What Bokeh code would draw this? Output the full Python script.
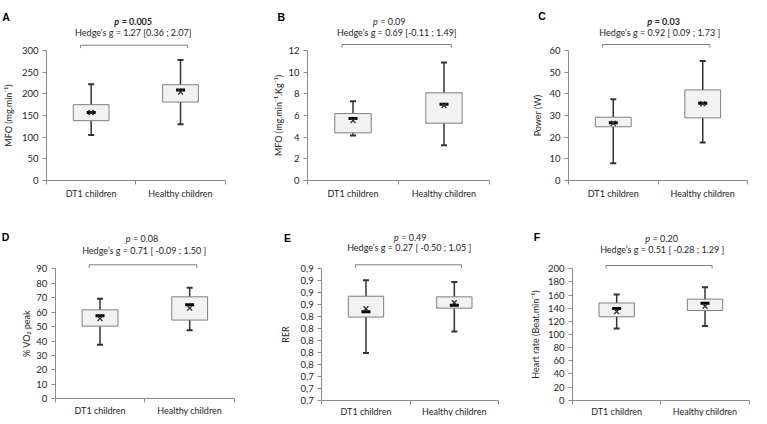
from bokeh.plotting import figure
from bokeh.layouts import column, row
from bokeh.models import Range1d, FixedTicker, Label, CustomJSTickFormatter
from bokeh.embed import file_html
from bokeh.resources import INLINE

groups = ["DT1 children", "Healthy children"]

# ---- data ----
A_low = [105, 130]; A_q1 = [138, 181]; A_med = [157, 209]; A_q3 = [175, 221]; A_high = [222, 278]; A_mean = [157, 204]
B_low = [4.15, 3.26]; B_q1 = [4.40, 5.29]; B_med = [5.72, 7.05]; B_q3 = [6.18, 8.09]; B_high = [7.32, 10.89]; B_mean = [5.54, 6.92]
C_low = [8.0, 17.5]; C_q1 = [24.8, 28.9]; C_med = [26.6, 35.6]; C_q3 = [29.2, 41.8]; C_high = [37.5, 55.1]; C_mean = [26.4, 35.4]
D_low = [37.4, 47.5]; D_q1 = [50.3, 54.5]; D_med = [57.5, 65.1]; D_q3 = [61.6, 70.6]; D_high = [69.2, 76.8]; D_mean = [55.6, 62.8]
E_low = [0.779, 0.815]; E_q1 = [0.839, 0.854]; E_med = [0.848, 0.859]; E_q3 = [0.874, 0.873]; E_high = [0.901, 0.898]; E_mean = [0.853, 0.863]
F_low = [109, 113]; F_q1 = [127, 136.5]; F_med = [139.6, 147.7]; F_q3 = [148, 153.8]; F_high = [161, 172]; F_mean = [135, 143]

A_ticks = [0, 50, 100, 150, 200, 250, 300]
B_ticks = [0, 2, 4, 6, 8, 10, 12]
C_ticks = [0, 10, 20, 30, 40, 50, 60]
D_ticks = [0, 10, 20, 30, 40, 50, 60, 70, 80, 90]
E_ticks = [0.70, 0.72, 0.74, 0.76, 0.78, 0.80, 0.82, 0.84, 0.86, 0.88, 0.90, 0.92]
F_ticks = [0, 20, 40, 60, 80, 100, 120, 140, 160, 180, 200]

letters = ["A", "B", "C", "D", "E", "F"]
ylabels = ["MFO (mg.min\u207b\u00b9)", "MFO (mg.min\u207b\u00b9.Kg\u207b\u00b9)", "Power (W)",
           "% VO\u2082 peak", "RER", "Heart rate (Beat.min\u207b\u00b9)"]
p_values = ["0.005", "0.09", "0.03", "0.08", "0.49", "0.20"]
p_bold = [True, False, True, False, False, False]
hedges = ["Hedge\u2019s g = 1.27 [0.36 ; 2.07]",
          "Hedge\u2019s g = 0.69 [-0.11 ; 1.49]",
          "Hedge\u2019s g = 0.92 [ 0.09 ; 1.73 ]",
          "Hedge\u2019s g = 0.71 [ -0.09 ; 1.50 ]",
          "Hedge\u2019s g = 0.27 [ -0.50 ; 1.05 ]",
          "Hedge\u2019s g = 0.51 [ -0.28 ; 1.29 ]"]

stats = [
    (A_low, A_q1, A_med, A_q3, A_high, A_mean, A_ticks),
    (B_low, B_q1, B_med, B_q3, B_high, B_mean, B_ticks),
    (C_low, C_q1, C_med, C_q3, C_high, C_mean, C_ticks),
    (D_low, D_q1, D_med, D_q3, D_high, D_mean, D_ticks),
    (E_low, E_q1, E_med, E_q3, E_high, E_mean, E_ticks),
    (F_low, F_q1, F_med, F_q3, F_high, F_mean, F_ticks),
]

# ---- layout (window pixels) ----
COL_LEFT = [8, 263, 518]
COL_W = [255, 255, 241]
ROW_TOP = [0, 204]
ROW_H = [204, 212]
# axis x start, axis x end, y of top tick, y of bottom tick
AXES = [
    (54.0, 232.7, 50.0, 180.0),
    (315.0, 497.0, 50.0, 180.0),
    (576.0, 755.0, 50.0, 180.0),
    (62.7, 242.0, 268.3, 398.3),
    (329.3, 506.0, 268.3, 399.5),
    (580.0, 756.7, 268.3, 399.7),
]
# letter_dx, letter_up, p_dx, p_up, h_dx, h_up, bracket_up, ylabel_standoff, xlabel_standoff
TEXTPOS = [
    (-40.5, 34.0, -3.3, 29.3, -2.6, 18.3, 5.3, 5, 3),
    (-26.3, 34.0, -10.0, 29.3, -1.7, 18.3, 6.0, 1, 3),
    (-26.5, 34.3, 5.0, 29.3, 1.8, 18.3, 6.0, 3, 3),
    (-49.7, 31.6, -3.6, 30.0, -0.6, 18.6, 4.0, 1, 2),
    (-34.3, 31.3, -0.7, 31.6, -0.9, 21.0, 4.0, 6, 2),
    (-35.5, 32.3, 0.0, 30.6, 1.4, 19.0, 3.3, 4, 2),
]

FONT = "Lato"
TXT = "#262626"
AX = "#8c8c8c"
XPOS = [0.5, 1.5]
BR_X0, BR_X1 = 0.38, 1.58

CW = {' ': 0.20, '=': 0.58, '.': 0.26, 'p': 0.58}


def est_w(s, size):
    return sum(CW.get(c, 0.58) for c in s) * size


def make_panel(i):
    low, q1, med, q3, high, mean, ticks = stats[i]
    col, rw = i % 3, i // 3
    W, H = COL_W[col], ROW_H[rw]
    FL, FT = COL_LEFT[col], ROW_TOP[rw]
    x0w, x1w, ytw, ybw = AXES[i]
    l_dx, l_up, p_dx, p_up, h_dx, h_up, b_up, yl_so, xl_so = TEXTPOS[i]

    ymin, ymax = ticks[0], ticks[-1]
    ppx = (x1w - x0w) / 2.0
    x0 = x0w - FL
    x_start = -x0 / ppx
    x_end = (W - x0) / ppx
    ytop = ytw - FT
    ybot = ybw - FT
    ppu = (ybot - ytop) / (ymax - ymin)
    y_end = ymax + ytop / ppu
    y_start = ymin - (H - ybot) / ppu

    p = figure(width=W, height=H, output_backend="svg", toolbar_location=None,
               x_range=Range1d(x_start, x_end), y_range=Range1d(y_start, y_end),
               min_border=0, min_border_left=0, min_border_right=0,
               min_border_top=0, min_border_bottom=0)
    p.outline_line_color = None
    p.xgrid.visible = False
    p.ygrid.visible = False
    p.background_fill_color = "white"
    p.border_fill_color = "white"

    # x axis
    xa = p.xaxis[0]
    xa.fixed_location = ymin
    xa.bounds = (0, 2)
    xa.ticker = FixedTicker(ticks=XPOS, minor_ticks=[0, 1, 2])
    xa.major_label_overrides = {XPOS[0]: groups[0], XPOS[1]: groups[1]}
    xa.major_tick_out = 0
    xa.major_tick_in = 0
    xa.minor_tick_out = 4
    xa.minor_tick_in = 0
    xa.major_label_standoff = xl_so
    xa.major_label_text_font_size = "9px"

    # y axis
    ya = p.yaxis[0]
    ya.fixed_location = 0
    ya.ticker = FixedTicker(ticks=ticks, minor_ticks=[])
    ya.bounds = (ymin, ymax)
    ya.major_tick_out = 4
    ya.major_tick_in = 0
    ya.minor_tick_out = 0
    ya.minor_tick_in = 0
    ya.major_label_standoff = 4
    ya.axis_label = ylabels[i]
    ya.axis_label_standoff = int(yl_so)
    ya.axis_label_text_font = FONT
    ya.axis_label_text_font_size = "9px"
    ya.axis_label_text_font_style = "normal"
    ya.axis_label_text_color = TXT
    ya.major_label_text_font_size = "9.5px"
    if i == 4:
        ya.formatter = CustomJSTickFormatter(code="return tick.toFixed(1).replace('.', ',');")

    for ax in (xa, ya):
        ax.axis_line_color = AX
        ax.major_tick_line_color = AX
        ax.minor_tick_line_color = AX
        ax.major_label_text_font = FONT
        ax.major_label_text_color = TXT

    # box plots
    p.segment(x0=XPOS, y0=low, x1=XPOS, y1=high, line_color="#333333", line_width=1.5)
    p.scatter(x=XPOS, y=low, marker="dash", size=6, line_color="#333333", line_width=2)
    p.scatter(x=XPOS, y=high, marker="dash", size=6, line_color="#333333", line_width=2)
    p.vbar(x=XPOS, width=0.4, bottom=q1, top=q3, fill_color="#f2f2f2", line_color="#7f7f7f", line_width=1)
    p.scatter(x=XPOS, y=med, marker="dash", size=9, line_color="black", line_width=3)
    p.scatter(x=XPOS, y=mean, marker="x", size=7, line_color="#333333", line_width=1.3)

    # bracket
    yb = ymax + b_up / ppu
    yt = yb - 3 / ppu
    p.line(x=[BR_X0, BR_X0, BR_X1, BR_X1], y=[yt, yb, yb, yt], line_color="#7f7f7f", line_width=1)

    # panel letter
    p.add_layout(Label(x=0, y=ymax + l_up / ppu, x_offset=l_dx, text=letters[i],
                       text_font="Liberation Sans", text_font_style="bold", text_font_size="10.5px",
                       text_align="center", text_baseline="middle", text_color="black"))

    # p value: italic p + rest
    size = 9
    rest = "= " + p_values[i]
    full = "p " + rest
    style_p = "bold italic" if p_bold[i] else "italic"
    style_r = "bold" if p_bold[i] else "normal"
    split = p_dx - est_w(full, size) / 2 + est_w("p", size)
    yp = ymax + p_up / ppu
    p.add_layout(Label(x=1, y=yp, x_offset=split, text="p", text_font=FONT, text_font_style=style_p,
                       text_font_size="9px", text_align="right", text_baseline="middle", text_color=TXT))
    p.add_layout(Label(x=1, y=yp, x_offset=split + 2.5, text=rest, text_font=FONT, text_font_style=style_r,
                       text_font_size="9px", text_align="left", text_baseline="middle", text_color=TXT))
    # Hedge's g
    p.add_layout(Label(x=1, y=ymax + h_up / ppu, x_offset=h_dx, text=hedges[i], text_font=FONT,
                       text_font_size="9px", text_align="center", text_baseline="middle", text_color=TXT))
    return p


panels = [make_panel(i) for i in range(6)]
page = column(row(*panels[:3]), row(*panels[3:]))

open("out.html", "w").write(file_html(page, INLINE))
